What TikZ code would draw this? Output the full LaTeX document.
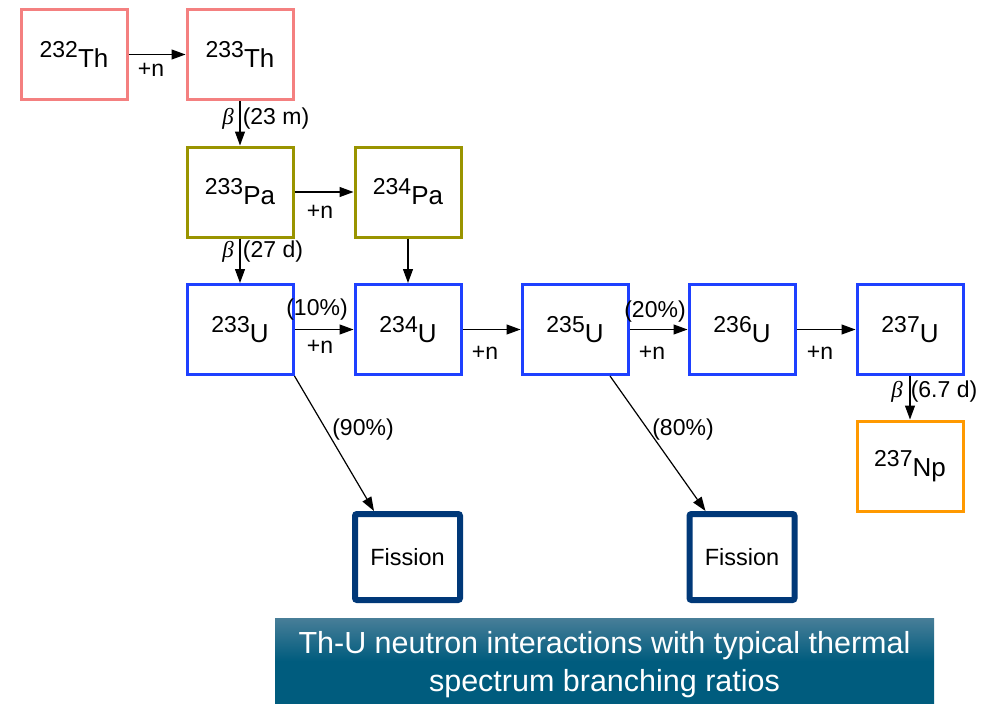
\documentclass[tikz,border=0pt]{standalone}
\usepackage{fontspec}
\setmainfont{Liberation Sans}
\newfontfamily\grkfont{Liberation Serif}
\usetikzlibrary{arrows.meta,calc}
\definecolor{thcol}{RGB}{244,128,128}
\definecolor{pacol}{RGB}{153,148,0}
\definecolor{ucol}{RGB}{30,64,255}
\definecolor{npcol}{RGB}{255,153,0}
\definecolor{fiscol}{RGB}{0,56,120}
\definecolor{captop}{RGB}{72,126,152}
\definecolor{capbot}{RGB}{0,92,126}
\newcommand{\nuc}[2]{\raisebox{10pt}{\fontsize{23}{23}\selectfont #1}#2}
\newcommand{\bet}{{\grkfont\itshape β}}
\tikzset{
  nucbox/.style={draw=#1, line width=3pt, minimum width=106pt, minimum height=90pt, inner sep=0pt, fill=white, font=\fontsize{26}{26}\selectfont},
  fisbox/.style={draw=fiscol, line width=6pt, rounded corners=2pt, minimum width=105pt, minimum height=86pt, inner sep=0pt, font=\fontsize{23.5}{23.5}\selectfont},
  arr/.style={-{Triangle[length=14pt,width=10pt]}, line width=1.2pt, black},
  lab/.style={font=\fontsize{23}{23}\selectfont, inner sep=0pt},
}
\begin{document}
\begin{tikzpicture}[x=1pt,y=-1pt]
\useasboundingbox (0,0) rectangle (989,704);
% nodes
\node[nucbox=thcol] (th232) at (74,54.5) {\nuc{232}{Th}};
\node[nucbox=thcol] (th233) at (240,54.5) {\nuc{233}{Th}};
\node[nucbox=pacol] (pa233) at (240,192) {\nuc{233}{Pa}};
\node[nucbox=pacol] (pa234) at (408,192) {\nuc{234}{Pa}};
\node[nucbox=ucol] (u233) at (240,329.5) {\nuc{233}{U}};
\node[nucbox=ucol] (u234) at (408,329.5) {\nuc{234}{U}};
\node[nucbox=ucol] (u235) at (575,329.5) {\nuc{235}{U}};
\node[nucbox=ucol] (u236) at (742,329.5) {\nuc{236}{U}};
\node[nucbox=ucol] (u237) at (910,329.5) {\nuc{237}{U}};
\node[nucbox=npcol] (np237) at (910,466) {\nuc{237}{Np}};
\node[fisbox] (f1) at (407.5,557) {Fission};
\node[fisbox] (f2) at (742,557) {Fission};
% connectors
\draw[arr] (th232.east) -- (th233.west);
\draw[arr] (th233.south) -- (pa233.north);
\draw[arr] (pa233.east) -- (pa234.west);
\draw[arr] (pa233.south) -- (u233.north);
\draw[arr] (pa234.south) -- (u234.north);
\draw[arr] (u233.east) -- (u234.west);
\draw[arr] (u234.east) -- (u235.west);
\draw[arr] (u235.east) -- (u236.west);
\draw[arr] (u236.east) -- (u237.west);
\draw[arr] (u237.south) -- (np237.north);
\draw[arr] (u233.south east) -- ([xshift=22pt]f1.north west);
\draw[arr] ([xshift=35pt]u235.south) -- ([xshift=19pt]f2.north west);
% labels
\node[lab] (l1) at (151,70) {+n};
\node[lab] (b1) at (228,119) {\bet};
\node[lab] (t1) at (276,119) {(23 m)};
\node[lab] (l2) at (320,212) {+n};
\node[lab] (b2) at (228,252) {\bet};
\node[lab] (t2) at (273,252) {(27 d)};
\node[lab] (p1) at (317,310) {(10\%)};
\node[lab] (l3) at (320,347) {+n};
\node[lab] (l4) at (485,353) {+n};
\node[lab] (p2) at (655,312) {(20\%)};
\node[lab] (l5) at (652,353) {+n};
\node[lab] (l6) at (820,353) {+n};
\node[lab] (b3) at (897,392) {\bet};
\node[lab] (t3) at (944,392) {(6.7 d)};
\node[lab] (p3) at (363,430) {(90\%)};
\node[lab] (p4) at (683,430) {(80\%)};
% caption
\shade[top color=captop, bottom color=capbot, middle color=capbot, shading angle=0] (275,618) rectangle (934,704);
\node[text=white, font=\fontsize{30.5}{38}\selectfont, align=center, inner sep=0pt] (cap) at (604.5,665) {Th-U neutron interactions with typical thermal\\spectrum branching ratios};
\end{tikzpicture}
\end{document}
